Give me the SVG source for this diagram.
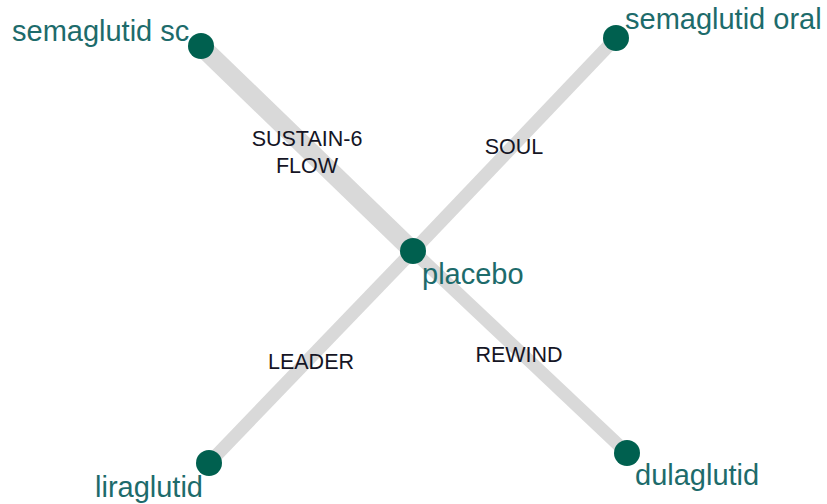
<svg xmlns="http://www.w3.org/2000/svg" width="827" height="504" viewBox="0 0 827 504">
<style>
.e{stroke:#d9d9d9;stroke-linecap:butt;fill:none}
.n{fill:#00604f}
.nl{font-family:"Liberation Sans",Arial,sans-serif;font-size:29px;fill:#1d6b6b}
.el{font-family:"Liberation Sans",Arial,sans-serif;font-size:21.5px;fill:#151525;text-anchor:middle}
</style>
<rect width="827" height="504" fill="#ffffff"/>
<g id="edges">
<line class="e" x1="201" y1="46" x2="413" y2="251" stroke-width="19"/>
<line class="e" x1="616" y1="38" x2="413" y2="251" stroke-width="13"/>
<line class="e" x1="209" y1="463" x2="413" y2="251" stroke-width="13"/>
<line class="e" x1="627" y1="453" x2="413" y2="251" stroke-width="13"/>
<text class="el" x="307" y="146">SUSTAIN-6</text>
<text class="el" x="307" y="173">FLOW</text>
<text class="el" x="514" y="154">SOUL</text>
<text class="el" x="311" y="369">LEADER</text>
<text class="el" x="519" y="362">REWIND</text>
</g>
<g id="semaglutid-sc"><circle class="n" cx="201" cy="46" r="13"/><text class="nl" x="12" y="41">semaglutid sc</text></g>
<g id="semaglutid-oral"><circle class="n" cx="616" cy="38" r="13"/><text class="nl" x="625" y="29">semaglutid oral</text></g>
<g id="placebo"><circle class="n" cx="413" cy="251" r="13"/><text class="nl" x="422" y="284">placebo</text></g>
<g id="liraglutid"><circle class="n" cx="209" cy="463" r="13"/><text class="nl" x="95" y="497">liraglutid</text></g>
<g id="dulaglutid"><circle class="n" cx="627" cy="453" r="13"/><text class="nl" x="635" y="485">dulaglutid</text></g>
</svg>
